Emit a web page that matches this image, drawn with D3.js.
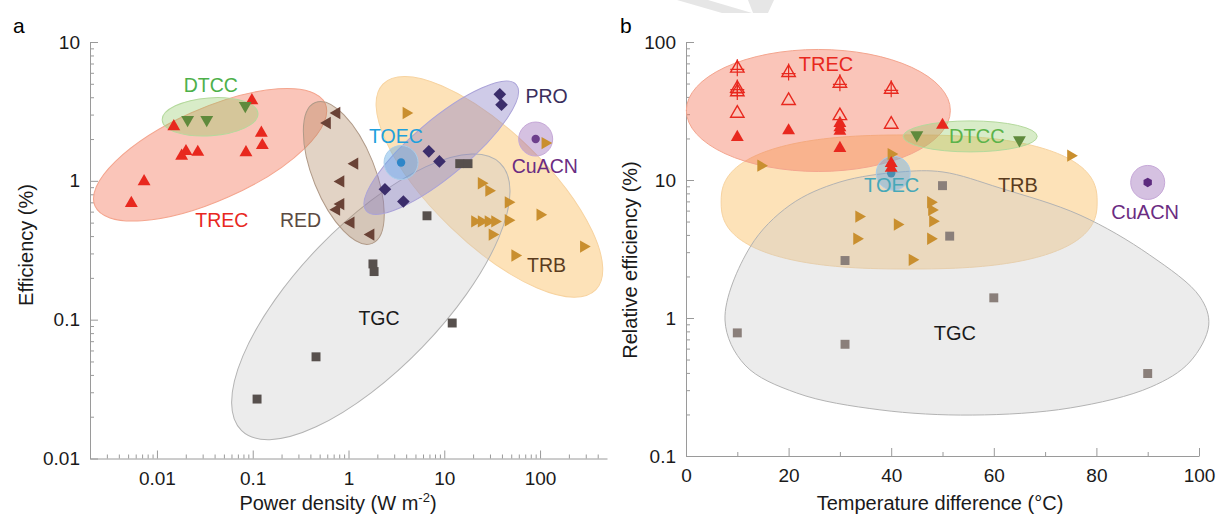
<!DOCTYPE html>
<html>
<head>
<meta charset="utf-8">
<script src="https://cdn.jsdelivr.net/npm/d3@7"></script>
<style>
  body { margin: 0; background: #fff; }
  svg text { font-family: "Liberation Sans", Arial, sans-serif; }
</style>
</head>
<body>
<svg id="chart" width="1217" height="516"></svg>
<script>
// panel a: [power density (W m-2), efficiency (%)]
const trecA = [[0.098, 3.79], [0.015, 2.46], [0.123, 2.21], [0.126, 1.80], [0.0201, 1.63], [0.0181, 1.51],
               [0.0267, 1.61], [0.085, 1.60], [0.00734, 0.99], [0.0054, 0.69]]
const dtccA = [[0.0209, 2.75], [0.0331, 2.75], [0.0836, 3.47]]
const redA = [[0.754, 3.08], [0.60, 2.61], [1.16, 1.33], [0.83, 0.99], [0.83, 0.68], [0.75, 0.62], [1.06, 0.50], [1.71, 0.41]]
const toecA = [[3.54, 1.355]]
const proA = [[38, 4.2], [39.6, 3.53], [6.9, 1.63], [8.9, 1.38], [2.4, 0.87], [3.74, 0.71]]
const cuacnA = [[90, 2.0]]
const trbA = [[4.0, 3.08], [113, 1.87], [24.4, 0.96], [29.2, 0.85], [46.6, 0.70], [20.8, 0.51], [24.4, 0.51],
              [28.8, 0.51], [33.7, 0.51], [46.6, 0.52], [31.7, 0.41], [100, 0.57], [285, 0.336], [54.7, 0.29]]
const tgcA = [[14.5, 1.33], [17.7, 1.33], [6.6, 0.56], [1.8, 0.252], [1.85, 0.222], [0.111, 0.0268], [0.458, 0.054], [12.1, 0.0946]]

// panel b: [temperature difference (°C), relative efficiency (%)]
const trecFilledB = [[10, 20.4], [20, 22.8], [30, 25.8], [30, 24], [30, 22.6], [30, 17.0], [50, 25.0], [40, 13.2], [40, 12.2]]
const trecOpenB = [[10, 30.4], [20, 37.6], [30, 29.2], [40, 25.3]]
const trecPlusB = [[10, 64.5], [20, 60], [30, 50.2], [40, 45.4], [10, 46], [10, 43.5]]
const dtccB = [[45, 21.2], [65, 19.5]]
const toecB = [[40, 11.2]]
const trbB = [[14.6, 12.7], [40, 15.4], [75, 15], [33.7, 5.43], [33.3, 3.75], [41.2, 4.76], [48.1, 5.03],
              [47.7, 6.9], [47.9, 6.07], [47.7, 3.75], [44.1, 2.64]]
const tgcB = [[50, 9.1], [51.4, 3.92], [31, 2.61], [60, 1.4], [10, 0.78], [31, 0.645], [90, 0.396]]
const cuacnB = [[90, 9.6]]

// outline of the TGC region in panel b, data units
const tgcOutlineB = [[7.6, 0.967], [12.5, 3.27], [20.3, 6.59], [30, 9.67], [41.7, 11.43], [50.1, 11.43], [61.2, 8.75],
                     [76.8, 5.57], [90.4, 2.86], [100.2, 1.42], [101.9, 0.889], [98.2, 0.48], [90.6, 0.316],
                     [74.9, 0.223], [55.8, 0.198], [37.8, 0.216], [21.6, 0.286], [11.5, 0.456]]

// region labels [text, x, y]
const labelsA = [['DTCC', 0.0365, 4.92], ['TREC', 0.0476, 0.523], ['RED', 0.316, 0.523], ['TOEC', 3.13, 2.09],
                 ['PRO', 117, 4.05], ['CuACN', 112, 1.27], ['TRB', 117, 0.248], ['TGC', 2.08, 0.103]]
const labelsB = [['TREC', 27.3, 69.3], ['DTCC', 56.7, 20.9], ['TOEC', 40.1, 9.2], ['TRB', 64.7, 9.2],
                 ['CuACN', 89.5, 5.87], ['TGC', 52.4, 0.778]]

// ticks
const aXMajor = [0.01, 0.1, 1, 10, 100]
const aYMajor = [0.01, 0.1, 1, 10]
const bXMajor = [0, 20, 40, 60, 80, 100]
const bXMinor = [10, 30, 50, 70, 90]
const bYMajor = [0.1, 1, 10, 100]

const look = {
  TREC:  {fill: '#f26e50', op: 0.4,  stroke: '#f4a58e', mark: '#e8281e', text: '#e8281e'},
  DTCC:  {fill: '#8fc962', op: 0.35, stroke: '#b4d99c', mark: '#5f8a3c', text: '#4db04a'},
  RED:   {fill: '#ac8159', op: 0.35, stroke: '#b09a88', mark: '#6a4236', text: '#5b4a42'},
  TOEC:  {fill: '#64aae6', op: 0.45, stroke: '#a9cdea', mark: '#2e86c8', text: '#1ea0dc'},
  PRO:   {fill: '#877dc5', op: 0.4,  stroke: '#aaa2d8', mark: '#3b2d6b', text: '#3a2e5c'},
  CuACN: {fill: '#9664b4', op: 0.4,  stroke: '#c6a8d8', mark: '#6d3f8c', text: '#6b2c82'},
  TRB:   {fill: '#fabe62', op: 0.45, stroke: '#f7d3a0', mark: '#c98f2f', text: '#5a3c1e'},
  TGC:   {fill: '#c9c9c9', op: 0.35, stroke: '#b3b3b3', mark: '#57504d', text: '#1a1a1a'}
}

const svg = d3.select('#chart')

const xA = d3.scaleLog().domain([0.002, 500]).range([90, 607])
const yA = d3.scaleLog().domain([0.01, 10]).range([458.5, 42])
const xB = d3.scaleLinear().domain([0, 100]).range([686, 1199])
const yB = d3.scaleLog().domain([0.1, 100]).range([456, 42])

let logMinor = (lo, hi) => {
  let out = []
  for (let e = Math.floor(Math.log10(lo)); e <= Math.ceil(Math.log10(hi)); e++) {
    for (let k = 2; k <= 9; k++) {
      let v = +(k * Math.pow(10, e)).toPrecision(3)
      if (v > lo * 1.001 && v < hi * 0.999) out.push(v)
    }
  }
  return out
}

// watermark
svg.append('path').attr('d', 'M677,0 L708,0 L752,13 L722,13 Z').attr('fill', '#e6e6e6')
svg.append('path').attr('d', 'M748,0 L774,0 L768,13 L753,13 Z').attr('fill', '#e6e6e6')

let styleAxis = g => {
  g.attr('font-family', null)
  g.selectAll('.domain, .tick line').attr('stroke', '#9a9a9a').attr('stroke-width', 1)
  g.selectAll('text').attr('fill', '#1a1a1a').attr('font-size', 19)
}

let drawAxes = (xs, ys, xMajor, xMinor, yMajor, yMinor) => {
  let y0 = ys.range()[0], x0 = xs.range()[0]
  let gx = svg.append('g').attr('transform', `translate(0,${y0})`)
  gx.call(d3.axisBottom(xs).tickValues(xMinor).tickFormat('').tickSizeInner(-4).tickSizeOuter(0))
  gx.select('.domain').remove()
  gx.call(styleAxis)
  let gx2 = svg.append('g').attr('transform', `translate(0,${y0})`)
  gx2.call(d3.axisBottom(xs).tickValues(xMajor).tickFormat(d => String(d)).tickSizeInner(-8).tickSizeOuter(0).tickPadding(13))
  gx2.call(styleAxis)

  let gy = svg.append('g').attr('transform', `translate(${x0},0)`)
  gy.call(d3.axisLeft(ys).tickValues(yMinor).tickFormat('').tickSizeInner(-4).tickSizeOuter(0))
  gy.select('.domain').remove()
  gy.call(styleAxis)
  let gy2 = svg.append('g').attr('transform', `translate(${x0},0)`)
  gy2.call(d3.axisLeft(ys).tickValues(yMajor).tickFormat(d => String(d)).tickSizeInner(-8).tickSizeOuter(0).tickPadding(10))
  gy2.call(styleAxis)
}

drawAxes(xA, yA, aXMajor, logMinor(0.002, 500), aYMajor, logMinor(0.01, 10))
drawAxes(xB, yB, bXMajor, bXMinor, bYMajor, logMinor(0.1, 100))

// regions
let ellipse = (xs, ys, key, cx, cy, rx, ry, rot) => {
  let s = look[key]
  svg.append('ellipse')
     .attr('rx', rx).attr('ry', ry)
     .attr('transform', `translate(${xs(cx)},${ys(cy)}) rotate(${rot})`)
     .attr('fill', s.fill).attr('fill-opacity', s.op)
     .attr('stroke', s.stroke).attr('stroke-width', 1)
}

ellipse(xA, yA, 'TRB', 29.6, 0.905, 148, 56, 44)
ellipse(xA, yA, 'TGC', 1.71, 0.146, 186, 72, -46)
ellipse(xA, yA, 'TREC', 0.0359, 1.54, 126, 46, -24)
ellipse(xA, yA, 'DTCC', 0.0359, 2.89, 48, 19, -4)
ellipse(xA, yA, 'RED', 0.893, 1.14, 76, 31, 68)
ellipse(xA, yA, 'PRO', 9.3, 1.73, 98, 28, -40)
ellipse(xA, yA, 'TOEC', 3.54, 1.355, 17, 17, 0)
ellipse(xA, yA, 'CuACN', 90, 2.0, 17, 17, 0)

// panel b TRB: rounded superellipse
{
  let s = look.TRB, cx = xB(43.5), cy = yB(6.93), rx = 188, ry = 67, n = 2.5
  let pts = d3.range(0, 2 * Math.PI, Math.PI / 90).map(t => {
    let c = Math.cos(t), sn = Math.sin(t)
    return [cx + rx * Math.sign(c) * Math.pow(Math.abs(c), 2 / n), cy + ry * Math.sign(sn) * Math.pow(Math.abs(sn), 2 / n)]
  })
  svg.append('path').attr('d', d3.line().curve(d3.curveLinearClosed)(pts))
     .attr('fill', s.fill).attr('fill-opacity', s.op).attr('stroke', s.stroke)
}
svg.append('path')
   .attr('d', d3.line().x(d => xB(d[0])).y(d => yB(d[1])).curve(d3.curveCatmullRomClosed)(tgcOutlineB))
   .attr('fill', look.TGC.fill).attr('fill-opacity', look.TGC.op).attr('stroke', look.TGC.stroke)
ellipse(xB, yB, 'TREC', 25.8, 31.9, 132, 61, 0)
ellipse(xB, yB, 'DTCC', 55.4, 20.7, 67, 15.5, 0)
ellipse(xB, yB, 'TOEC', 40.4, 11.2, 17, 17, 0)
ellipse(xB, yB, 'CuACN', 90, 9.6, 17, 17, 0)

// markers
const symbolHex = {
  draw(ctx, size) {
    let r = Math.sqrt(size / 2.598)
    for (let i = 0; i < 6; i++) {
      let a = Math.PI / 3 * i - Math.PI / 2
      if (i) ctx.lineTo(r * Math.cos(a), r * Math.sin(a))
      else ctx.moveTo(r * Math.cos(a), r * Math.sin(a))
    }
    ctx.closePath()
  }
}

let points = (xs, ys, data, type, size, rot, color, open) => {
  svg.append('g').selectAll('path').data(data).enter().append('path')
     .attr('d', d3.symbol().type(type).size(size))
     .attr('transform', d => `translate(${xs(d[0])},${ys(d[1])}) rotate(${rot})`)
     .attr('fill', open ? 'none' : color)
     .attr('stroke', open ? color : 'none')
     .attr('stroke-width', open ? 1.4 : 0)
}

points(xA, yA, tgcA, d3.symbolSquare, 80, 0, look.TGC.mark)
points(xA, yA, trbA, d3.symbolTriangle, 66, 90, look.TRB.mark)
points(xA, yA, redA, d3.symbolTriangle, 66, -90, look.RED.mark)
points(xA, yA, proA, d3.symbolSquare, 80, 45, look.PRO.mark)
points(xA, yA, trecA, d3.symbolTriangle, 72, 0, look.TREC.mark)
points(xA, yA, dtccA, d3.symbolTriangle, 72, 180, look.DTCC.mark)
points(xA, yA, toecA, d3.symbolCircle, 55, 0, look.TOEC.mark)
points(xA, yA, cuacnA, d3.symbolCircle, 55, 0, look.CuACN.mark)

points(xB, yB, tgcB, d3.symbolSquare, 80, 0, '#8a7f7a')
points(xB, yB, trbB, d3.symbolTriangle, 66, 90, look.TRB.mark)
points(xB, yB, toecB, d3.symbolCircle, 55, 0, '#4a8fb0')
points(xB, yB, trecFilledB, d3.symbolTriangle, 72, 0, look.TREC.mark)
points(xB, yB, trecOpenB, d3.symbolTriangle, 78, 0, look.TREC.mark, true)
points(xB, yB, trecPlusB, d3.symbolTriangle, 78, 0, look.TREC.mark, true)
svg.append('g').selectAll('path').data(trecPlusB).enter().append('path')
   .attr('d', 'M0,-9 V8 M-7,1 H7')
   .attr('transform', d => `translate(${xB(d[0])},${yB(d[1])})`)
   .attr('stroke', look.TREC.mark).attr('stroke-width', 1.2).attr('fill', 'none')
points(xB, yB, dtccB, d3.symbolTriangle, 72, 180, look.DTCC.mark)
points(xB, yB, cuacnB, symbolHex, 60, 0, '#5c2a7e')

// region labels
let labels = (xs, ys, list, size, colors) => {
  svg.append('g').selectAll('text').data(list).enter().append('text')
     .attr('x', d => xs(d[1])).attr('y', d => ys(d[2]))
     .attr('text-anchor', 'middle').attr('dominant-baseline', 'central')
     .attr('font-size', size)
     .attr('fill', d => (colors && colors[d[0]]) || look[d[0]].text)
     .text(d => d[0])
}
labels(xA, yA, labelsA, 19.5)
labels(xB, yB, labelsB, 20, {TOEC: '#46a8b8', DTCC: '#5cb34a'})

// panel letters and axis titles
svg.append('text').attr('x', 13).attr('y', 33).attr('font-size', 21).text('a')
svg.append('text').attr('x', 620).attr('y', 33).attr('font-size', 21).text('b')

let xt = svg.append('text').attr('x', 338).attr('y', 510).attr('text-anchor', 'middle').attr('font-size', 20).attr('fill', '#1a1a1a')
xt.append('tspan').text('Power density (W m')
xt.append('tspan').attr('dy', -8).attr('font-size', 13).text('-2')
xt.append('tspan').attr('dy', 8).text(')')

svg.append('text').attr('x', 940).attr('y', 510).attr('text-anchor', 'middle').attr('font-size', 20).attr('fill', '#1a1a1a')
   .text('Temperature difference (\u00b0C)')

svg.append('text').attr('transform', 'translate(33,245) rotate(-90)').attr('text-anchor', 'middle')
   .attr('font-size', 20).attr('fill', '#1a1a1a').text('Efficiency (%)')
svg.append('text').attr('transform', 'translate(637,260) rotate(-90)').attr('text-anchor', 'middle')
   .attr('font-size', 20).attr('fill', '#1a1a1a').text('Relative efficiency (%)')
</script>
</body>
</html>
